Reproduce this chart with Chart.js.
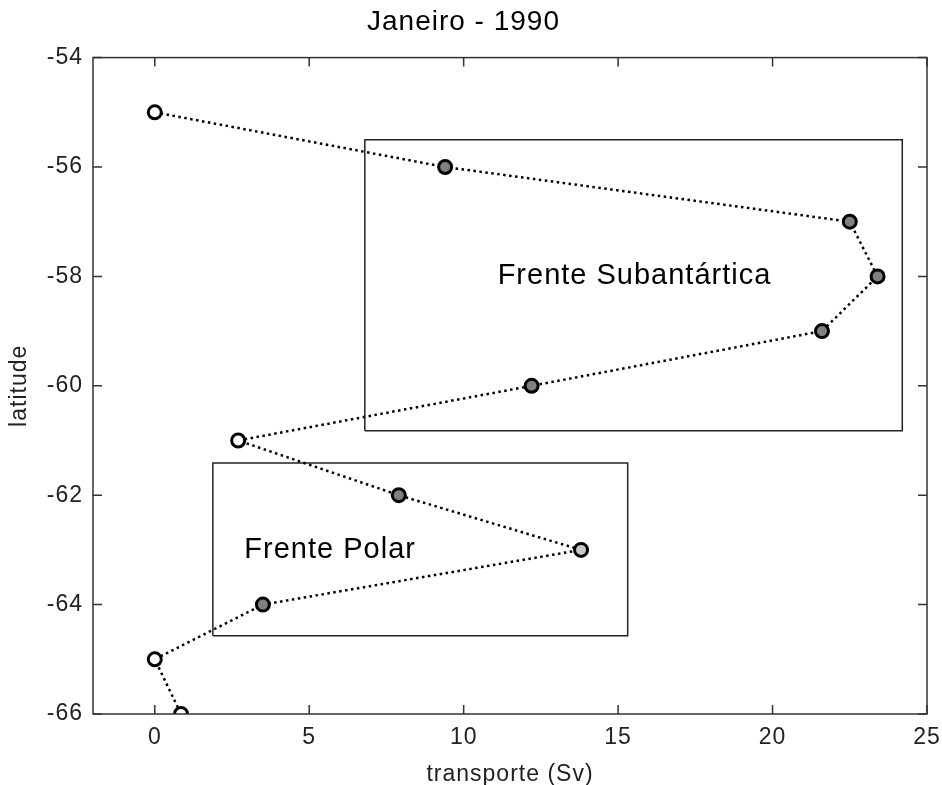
<!DOCTYPE html>
<html>
<head>
<meta charset="utf-8">
<title>Janeiro - 1990</title>
<script src="https://cdn.jsdelivr.net/npm/chart.js@4.4.1/dist/chart.umd.min.js"></script>
<style>
  html, body { margin: 0; padding: 0; background: #fff; }
  #wrap { width: 942px; height: 785px; }
</style>
</head>
<body>
<div id="wrap"><canvas id="transportChart" width="942" height="785"></canvas></div>
<script>
// Transport per latitude, January 1990
const latitudes = [-55, -56, -57, -58, -59, -60, -61, -62, -63, -64, -65, -66];
const transport = [0, 9.4, 22.5, 23.4, 21.6, 12.2, 2.7, 7.9, 13.8, 3.5, 0, 0.85];
// marker fill per station: open, dark grey or light grey
const markerFill = [
  "#ffffff", "#808080", "#808080", "#808080", "#808080", "#808080",
  "#ffffff", "#808080", "#c8c8c8", "#808080", "#ffffff", "#ffffff",
];

const xTicks = [0, 5, 10, 15, 20, 25];
const yTicks = [-54, -56, -58, -60, -62, -64, -66];

// front boxes: [xMin, xMax, yMin, yMax]
const subantarcticBox = [6.8, 24.2, -60.82, -55.5];
const polarBox = [1.88, 15.31, -64.57, -61.41];

const fronts = [
  { label: "Frente Subantártica", x: 11.1, y: -58 },
  { label: "Frente Polar", x: 2.9, y: -63 },
];

function boxPath(b) {
  return [
    { x: b[0], y: b[2] },
    { x: b[1], y: b[2] },
    { x: b[1], y: b[3] },
    { x: b[0], y: b[3] },
    { x: b[0], y: b[2] },
  ];
}

const FONT = "'Liberation Sans', Arial, sans-serif";

// frame, inward ticks on all four sides, and front labels
const framePlugin = {
  id: "frame",
  beforeDraw(chart) {
    // slightly wider text spacing for every label on the canvas
    chart.ctx.letterSpacing = "1px";
  },
  afterDatasetsDraw(chart) {
    const ctx = chart.ctx;
    const a = chart.chartArea;
    const xs = chart.scales.x;
    const ys = chart.scales.y;
    const len = 9;
    ctx.save();
    ctx.strokeStyle = "#333";
    ctx.lineWidth = 1.5;
    ctx.strokeRect(a.left, a.top, a.right - a.left, a.bottom - a.top);
    ctx.beginPath();
    xTicks.forEach((v) => {
      const px = xs.getPixelForValue(v);
      ctx.moveTo(px, a.bottom);
      ctx.lineTo(px, a.bottom - len);
      ctx.moveTo(px, a.top);
      ctx.lineTo(px, a.top + len);
    });
    yTicks.forEach((v) => {
      const py = ys.getPixelForValue(v);
      ctx.moveTo(a.left, py);
      ctx.lineTo(a.left + len, py);
      ctx.moveTo(a.right, py);
      ctx.lineTo(a.right - len, py);
    });
    ctx.stroke();

    ctx.fillStyle = "#000";
    ctx.font = "29px " + FONT;
    ctx.letterSpacing = "1px";
    ctx.textAlign = "left";
    ctx.textBaseline = "middle";
    fronts.forEach((f) => {
      ctx.fillText(f.label, xs.getPixelForValue(f.x), ys.getPixelForValue(f.y));
    });
    ctx.restore();
  },
};

new Chart(document.getElementById("transportChart").getContext("2d"), {
  type: "scatter",
  data: {
    datasets: [
      {
        label: "transporte",
        data: latitudes.map((lat, i) => ({ x: transport[i], y: lat })),
        showLine: true,
        borderColor: "#000",
        borderWidth: 2.5,
        borderDash: [2.5, 3.5],
        pointRadius: 6.5,
        pointBorderWidth: 3,
        pointBorderColor: "#000",
        pointBackgroundColor: markerFill,
        order: 0,
      },
      {
        label: "Frente Subantártica",
        data: boxPath(subantarcticBox),
        showLine: true,
        borderColor: "#222",
        borderWidth: 1.5,
        pointRadius: 0,
        order: 1,
      },
      {
        label: "Frente Polar",
        data: boxPath(polarBox),
        showLine: true,
        borderColor: "#222",
        borderWidth: 1.5,
        pointRadius: 0,
        order: 1,
      },
    ],
  },
  options: {
    responsive: false,
    animation: false,
    layout: { padding: { left: 0, right: 15, top: 0, bottom: 0 } },
    plugins: {
      legend: { display: false },
      tooltip: { enabled: false },
      title: {
        display: true,
        text: "Janeiro - 1990",
        color: "#000",
        font: { family: FONT, size: 28, weight: "normal" },
        padding: { top: 5, bottom: 19 },
      },
    },
    scales: {
      x: {
        type: "linear",
        min: -2,
        max: 25,
        afterBuildTicks: (scale) => {
          scale.ticks = xTicks.map((v) => ({ value: v }));
        },
        afterFit: (scale) => {
          scale.height = 71;
          scale.paddingLeft = 0;
          scale.paddingRight = 0;
        },
        grid: { display: false, drawTicks: false },
        border: { display: false },
        ticks: {
          color: "#222",
          padding: 10,
          font: { family: FONT, size: 23 },
        },
        title: {
          display: true,
          text: "transporte (Sv)",
          color: "#222",
          font: { family: FONT, size: 23 },
          padding: { top: 0, bottom: -3 },
        },
      },
      y: {
        type: "linear",
        min: -66,
        max: -54,
        afterBuildTicks: (scale) => {
          scale.ticks = yTicks.map((v) => ({ value: v }));
        },
        afterFit: (scale) => {
          scale.width = 93;
        },
        grid: { display: false, drawTicks: false },
        border: { display: false },
        ticks: {
          color: "#222",
          padding: 10,
          font: { family: FONT, size: 23 },
        },
        title: {
          display: true,
          text: "latitude",
          color: "#222",
          font: { family: FONT, size: 23 },
          padding: { top: 6, bottom: 0 },
        },
      },
    },
  },
  plugins: [framePlugin],
});
</script>
</body>
</html>
